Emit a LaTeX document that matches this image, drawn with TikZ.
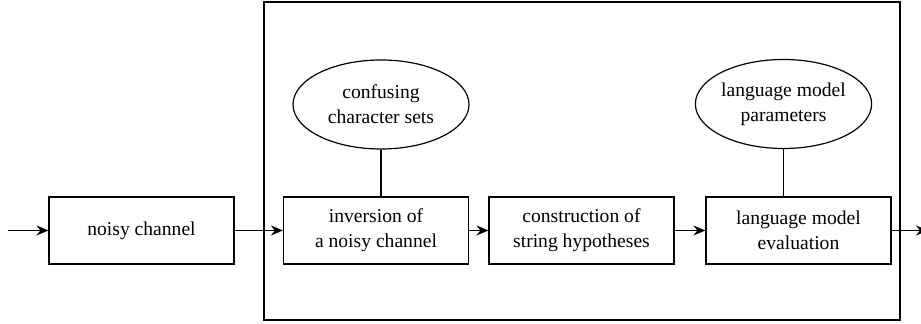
\documentclass[tikz,border=0pt]{standalone}
\usepackage{fontspec}
\setmainfont{Liberation Serif}
\usetikzlibrary{shapes.geometric,arrows.meta}
\tikzset{
  stage/.style={draw, rectangle, minimum width=92.5pt, minimum height=33.5pt,
                align=center, inner sep=0pt},
  resource/.style={draw, ellipse, minimum width=88pt, minimum height=44.5pt,
                   align=center, inner sep=0pt},
  flow/.style={-{Stealth[length=6pt,width=5pt,inset=2pt]}},
}
\begin{document}
\begin{tikzpicture}[x=0.5pt, y=-0.5pt, line width=0.6pt,
                    font=\fontsize{9.8}{12.4}\selectfont]
                    \useasboundingbox (0,0) rectangle (921,324);

                    % corrector frame
                    \node [draw, minimum width=318pt, minimum height=159pt, inner sep=0pt] (frame) at (582,161) {};

                    \node [stage] (noisy) at (141.5,230.5) {noisy channel};
                    \node [stage] (inv) at (376,230.5) {inversion of\\a noisy channel};
                    \node [stage] (hyp) at (581.5,230.5) {construction of\\string hypotheses};
                    \node [stage] (lm) at (798.5,230.5) {language model\\evaluation};

                    \node [resource] (conf) at (381,104.5) {confusing\\character sets};
                    \node [resource] (param) at (783.5,104) {language model\\parameters};

                    \coordinate (src) at (8,230.5);
                    \coordinate (out) at (928,230.5);

                    \draw[flow] (src) -- (noisy);
                    \draw[flow] (noisy) -- (inv);
                    \draw[flow] (inv) -- (hyp);
                    \draw[flow] (hyp) -- (lm);
                    \draw[flow] (lm) -- (out);

                    \draw (conf) -- (conf |- inv.north);
                    \draw (param) -- (param |- lm.north);

\end{tikzpicture}
\end{document}
